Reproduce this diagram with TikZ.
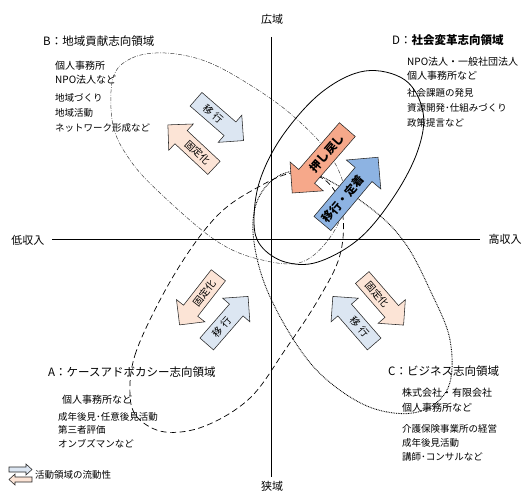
\documentclass[tikz,border=0pt]{standalone}
\usepackage{fontspec}
\setmainfont{Noto Sans CJK JP}
\definecolor{lblue}{RGB}{220,230,242}
\definecolor{peach}{RGB}{252,228,214}
\definecolor{salmon}{RGB}{246,168,138}
\definecolor{mblue}{RGB}{141,179,226}
\tikzset{
  axisline/.style={line width=0.8pt},
  regD/.style={line width=0.8pt},
  regB/.style={line width=0.5pt, black!75, dash pattern=on 4pt off 1.5pt on 0.8pt off 1.5pt},
  regA/.style={line width=0.7pt, dash pattern=on 6pt off 3.5pt},
  regC/.style={line width=0.9pt, dash pattern=on 0.8pt off 0.9pt},
  arrowline/.style={draw=black!85, line width=0.55pt, line join=miter},
  arrowtext/.style={inner sep=0pt},
  lbl/.style={anchor=west, inner sep=0pt},
  title/.style={lbl, font=\fontsize{11.5}{12}\selectfont},
  lineA/.style={lbl, font=\fontsize{10}{11}\selectfont},
  lineB/.style={lbl, font=\fontsize{9.5}{10}\selectfont},
  axislbl/.style={inner sep=0pt, font=\fontsize{11}{12}\selectfont},
}
\def\abl{22.5}\def\abw{9}\def\ahw{18}\def\ahl{18}
% name, center, text angle, direction, fill, font, text
\newcommand{\blkarrow}[7]{%
  \begin{scope}[shift={#2}, rotate=#3]
    \begin{scope}[xscale=#4]
      \draw[arrowline, fill=#5] (-\abl,-\abw) -- (\abl,-\abw) -- (\abl,-\ahw) -- (\abl+\ahl,0) -- (\abl,\ahw) -- (\abl,\abw) -- (-\abl,\abw) -- cycle;
    \end{scope}
    \node[arrowtext, rotate=#3, font=#6] (#1) at (0,0) {#7};
  \end{scope}}
\begin{document}
\begin{tikzpicture}[x=1pt, y=-1pt]
\useasboundingbox (0,0) rectangle (522,492);

% regions
\draw[regB] plot[smooth cycle, tension=0.6] coordinates {(113,78) (132,58) (165,53) (205,61) (247,83) (292,115) (330,155) (345,195) (333,233) (302,262) (258,259) (215,240) (160,193) (130,160) (113,125)};
\draw[regA] plot[smooth cycle, tension=0.6] coordinates {(130,395) (135,355) (160,300) (190,250) (220,213) (253,190) (292,173) (325,180) (342,210) (340,255) (318,300) (285,350) (250,398) (205,426) (165,432) (138,418)};
\draw[regC] plot[smooth cycle, tension=0.6] coordinates {(253,232) (260,195) (285,173) (320,176) (373,210) (405,243) (430,290) (450,340) (448,388) (418,412) (372,408) (327,380) (295,342) (265,285)};
\draw[regD] plot[smooth cycle, tension=0.6] coordinates {(254,222) (260,180) (283,135) (322,92) (365,71) (405,80) (423,112) (418,150) (395,195) (360,238) (318,262) (285,262) (261,246)};

% axes
\node[axislbl] (top) at (272,19) {広域};
\node[axislbl] (bottom) at (272,486) {狭域};
\node[axislbl] (left) at (28,240) {低収入};
\node[axislbl] (right) at (505,239) {高収入};
\coordinate (ytop) at (271,37);
\coordinate (ybot) at (271,477);
\coordinate (xleft) at (52,239.5);
\coordinate (xright) at (480,239.5);
\draw[axisline] (ytop) -- (ybot);
\draw[axisline] (xleft) -- (xright);

% small arrows
\blkarrow{bmove}{(213,114)}{-41}{1}{lblue}{\fontsize{10}{10}\selectfont}{移\hspace{3pt}行}
\blkarrow{bfix}{(197.5,152.5)}{-43}{-1}{peach}{\fontsize{10}{10}\selectfont}{固定化}
\blkarrow{afix}{(204.5,293)}{52}{-1}{peach}{\fontsize{10}{10}\selectfont}{固定化}
\blkarrow{amove}{(221.5,327)}{49}{1}{lblue}{\fontsize{10}{10}\selectfont}{移\hspace{3pt}行}
\blkarrow{cfix}{(377,294.5)}{-49}{1}{peach}{\fontsize{10}{10}\selectfont}{固定化}
\blkarrow{cmove}{(359.4,327)}{-49}{-1}{lblue}{\fontsize{10}{10}\selectfont}{移\hspace{3pt}行}

% big arrows
\def\abl{31}\def\abw{10.5}\def\ahw{22}\def\ahl{22}
\blkarrow{push}{(327,153)}{49}{-1}{salmon}{\bfseries\fontsize{11.5}{12}\selectfont}{押し戻し}
\def\abl{32}\def\abw{11}\def\ahw{22.5}\def\ahl{22.5}
\blkarrow{settle}{(343,199)}{50}{1}{mblue}{\bfseries\fontsize{11.5}{12}\selectfont}{移行・定着}

% B texts
\node[title] (btitle) at (43,41) {B：地域貢献志向領域};
\node[lineA] (b1) at (55,66) {個人事務所};
\node[lineA] (b2) at (55,80) {NPO法人など};
\node[lineB] (b3) at (55,98) {地域づくり};
\node[lineB] (b4) at (55,113) {地域活動};
\node[lineB] (b5) at (55,128) {ネットワーク形成など};

% D texts
\node[title] (dtitle) at (392,40) {D：\textbf{社会変革志向領域}};
\node[lineA] (d1) at (407,62) {NPO法人・一般社団法人};
\node[lineA] (d2) at (407,76) {個人事務所など};
\node[lineB] (d3) at (407,93) {社会課題の発見};
\node[lineB] (d4) at (407,108) {資源開発･仕組みづくり};
\node[lineB] (d5) at (407,123) {政策提言など};

% A texts
\node[title] (atitle) at (48,372) {A：ケースアドボカシー志向領域};
\node[lineA] (a1) at (62,400) {個人事務所など};
\node[lineB] (a2) at (58,417) {成年後見･任意後見活動};
\node[lineB] (a3) at (58,430) {第三者評価};
\node[lineB] (a4) at (58,444) {オンブズマンなど};

% C texts
\node[title] (ctitle) at (388,371) {C：ビジネス志向領域};
\node[lineA] (c1) at (402,393) {株式会社・有限会社};
\node[lineA] (c2) at (402,408) {個人事務所など};
\node[lineB] (c3) at (402,429) {介護保険事業所の経営};
\node[lineB] (c4) at (402,443) {成年後見活動};
\node[lineB] (c5) at (402,457) {講師･コンサルなど};

% legend
\draw[arrowline, fill=lblue] (9,467) -- (26,467) -- (26,464) -- (32,469.5) -- (26,475) -- (26,472) -- (9,472) -- cycle;
\draw[arrowline, fill=peach] (32,477) -- (15,477) -- (15,474) -- (9,479.5) -- (15,485) -- (15,482) -- (32,482) -- cycle;
\node[lbl, font=\fontsize{9.5}{10}\selectfont] (legend) at (35,475) {活動領域の流動性};
\end{tikzpicture}
\end{document}
